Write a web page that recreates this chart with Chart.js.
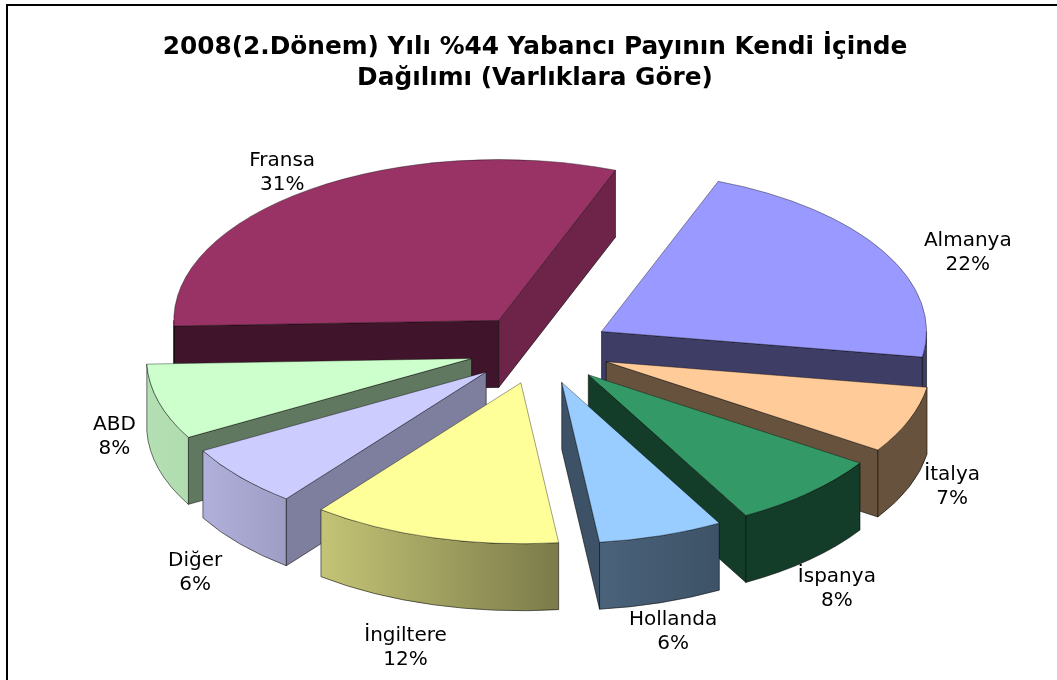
<!DOCTYPE html>
<html>
<head>
<meta charset="utf-8">
<style>
  html, body { margin: 0; padding: 0; background: #fff; overflow: hidden; }
  #wrap { position: relative; width: 1057px; height: 680px; }
  #frame { position: absolute; left: 6px; top: 4px; right: 0; bottom: 0; border-left: 2px solid #000; border-top: 2px solid #000; pointer-events: none; }
</style>
<script src="https://cdn.jsdelivr.net/npm/chart.js@4"></script>
</head>
<body>
<div id="wrap">
  <canvas id="pieChart" width="1057" height="680"></canvas>
  <div id="frame"></div>
</div>
<script>
const titleLines = ['2008(2.Dönem) Yılı %44 Yabancı Payının Kendi İçinde', 'Dağılımı (Varlıklara Göre)'];
const countries = ['Fransa', 'Almanya', 'İtalya', 'İspanya', 'Hollanda', 'İngiltere', 'Diğer', 'ABD'];
const shares = [31.4, 21.7, 6.7, 7.7, 6.2, 12.4, 6.3, 7.6];

// styles, one entry per slice
const sliceColors = ['#993366', '#9999ff', '#ffcc99', '#339966', '#99ccff', '#ffff99', '#ccccff', '#ccffcc'];
const startFaceShade = [0.42, 0.4, 0.4, 0.4, 0.4, 0.4, 0.62, 0.47];
const endFaceShade = [0.71, 0.4, 0.4, 0.4, 0.4, 0.4, 0.4, 0.4];
const labelNudge = [[-28, -17], [84.5, 1.6], [43, 67], [27.5, 96], [11.7, 96], [-27.7, 109.6], [-44.7, 96], [-44.3, 34.6]];

// how the flat pie is tilted on the page
const PIE_CX = 540, PIE_CY = 349, SQUASH = 0.495, DEPTH = 67, EXPLODE = 71;
const rimStops = [[0, 0.4], [62, 0.4], [85, 0.49], [128, 0.77], [149, 0.86], [180, 0.88]];

function shaded(hex, k) {
	const n = parseInt(hex.slice(1), 16);
	return 'rgb(' + Math.round((n >> 16) * k) + ',' + Math.round(((n >> 8) & 255) * k) + ',' + Math.round((n & 255) * k) + ')';
}

function rimShade(t) {
	var deg = (t * 180 / Math.PI + 360) % 360;
	for (var i = 1; i < rimStops.length; i++) {
		if (deg <= rimStops[i][0]) {
			const a = rimStops[i - 1], b = rimStops[i];
			return a[1] + (b[1] - a[1]) * (deg - a[0]) / (b[0] - a[0]);
		}
	}
	return rimStops[rimStops.length - 1][1];
}

function apexOf(arc) {
	const mid = (arc.startAngle + arc.endAngle) / 2;
	return {
		x: PIE_CX + Math.cos(mid) * EXPLODE,
		y: PIE_CY + Math.sin(mid) * EXPLODE * SQUASH
	};
}

function drawFace(ctx, arc, apex, angle, color) {
	const r = arc.outerRadius;
	const mid = (arc.startAngle + arc.endAngle) / 2;
	const ex = apex.x + Math.cos(angle) * r, ey = apex.y + Math.sin(angle) * r * SQUASH;
	const mx = apex.x + Math.cos(mid) * r, my = apex.y + Math.sin(mid) * r * SQUASH;
	// only the walls with the slice above them face the viewer
	const lineY = apex.y + (ey - apex.y) / (ex - apex.x) * (mx - apex.x);
	if (my >= lineY) return;
	ctx.beginPath();
	ctx.moveTo(apex.x, apex.y);
	ctx.lineTo(ex, ey);
	ctx.lineTo(ex, ey + DEPTH);
	ctx.lineTo(apex.x, apex.y + DEPTH);
	ctx.closePath();
	ctx.fillStyle = color;
	ctx.fill();
	ctx.stroke();
}

function drawRim(ctx, arc, apex, base) {
	const r = arc.outerRadius;
	[0, -2 * Math.PI].forEach(function(turn) {
		const from = Math.max(arc.startAngle, turn), to = Math.min(arc.endAngle, turn + Math.PI);
		if (to <= from) return;
		const grad = ctx.createLinearGradient(apex.x + Math.cos(from) * r, 0, apex.x + Math.cos(to) * r, 0);
		grad.addColorStop(0, shaded(base, rimShade(from)));
		grad.addColorStop(1, shaded(base, rimShade(to)));
		ctx.beginPath();
		ctx.ellipse(apex.x, apex.y, r, r * SQUASH, 0, from, to, false);
		ctx.ellipse(apex.x, apex.y + DEPTH, r, r * SQUASH, 0, to, from, true);
		ctx.closePath();
		ctx.fillStyle = grad;
		ctx.fill();
		ctx.stroke();
	});
}

const tiltedPie = {
	id: 'tiltedPie',
	beforeDatasetDraw(chart, args) {
		const ctx = chart.ctx;
		const arcs = chart.getDatasetMeta(args.index).data;
		const order = arcs.map(function(arc, i) { return i; });
		order.sort(function(a, b) { return apexOf(arcs[a]).y - apexOf(arcs[b]).y; });

		order.forEach(function(i) {
			const arc = arcs[i];
			const apex = apexOf(arc);
			ctx.save();
			ctx.lineWidth = 1;
			ctx.lineJoin = 'bevel';
			ctx.strokeStyle = 'rgba(0,0,0,0.55)';
			drawFace(ctx, arc, apex, arc.startAngle, shaded(sliceColors[i], startFaceShade[i]));
			drawFace(ctx, arc, apex, arc.endAngle, shaded(sliceColors[i], endFaceShade[i]));
			drawRim(ctx, arc, apex, sliceColors[i]);
			// top of the slice is the library's own arc, squashed
			ctx.translate(apex.x, apex.y);
			ctx.scale(1, SQUASH);
			ctx.translate(-arc.x, -arc.y);
			arc.draw(ctx);
			ctx.restore();
		});
		return false;
	},
	afterDatasetsDraw(chart) {
		const ctx = chart.ctx;
		const arcs = chart.getDatasetMeta(0).data;
		ctx.save();
		ctx.font = '20px "DejaVu Sans"';
		ctx.fillStyle = '#000';
		ctx.textAlign = 'center';
		ctx.textBaseline = 'middle';
		arcs.forEach(function(arc, i) {
			const mid = (arc.startAngle + arc.endAngle) / 2;
			const apex = apexOf(arc);
			const x = apex.x + Math.cos(mid) * arc.outerRadius + labelNudge[i][0];
			const y = apex.y + Math.sin(mid) * arc.outerRadius * SQUASH + labelNudge[i][1];
			ctx.fillText(countries[i], x, y - 12);
			ctx.fillText(Math.round(shares[i]) + '%', x, y + 12);
		});
		ctx.restore();
	}
};

new Chart(document.getElementById('pieChart'), {
	type: 'pie',
	data: {
		labels: countries,
		datasets: [{
			data: shares,
			backgroundColor: sliceColors,
			borderColor: 'rgba(0,0,0,0.5)',
			borderWidth: 1
		}]
	},
	options: {
		responsive: false,
		animation: false,
		rotation: -92,
		radius: 325,
		layout: { padding: { left: 13 } },
		plugins: {
			legend: { display: false },
			tooltip: { enabled: false },
			title: {
				display: true,
				text: titleLines,
				color: '#000',
				padding: { top: 32, bottom: 0 },
				font: { family: '"DejaVu Sans"', size: 24.8, weight: 'bold', lineHeight: 1.24 }
			}
		}
	},
	plugins: [tiltedPie]
});
</script>
</body>
</html>
